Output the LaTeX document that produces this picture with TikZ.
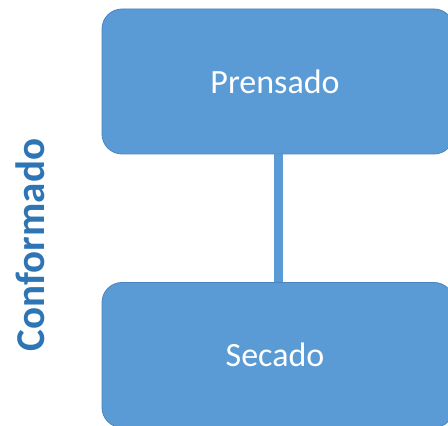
\documentclass[tikz,border=0pt]{standalone}
\usepackage{fontspec}
\setmainfont{Carlito}
\definecolor{boxfill}{HTML}{5B9BD5}
\definecolor{boxline}{HTML}{4A85BF}
\definecolor{labelblue}{HTML}{2E75B6}
\begin{document}
\begin{tikzpicture}[x=1pt,y=1pt,
  stagebox/.style={draw=boxline, line width=0.8pt, fill=boxfill, rounded corners=20pt,
    minimum width=352pt, minimum height=145pt, inner sep=0pt,
    text=white, font=\fontsize{34}{40}\selectfont},
  linkbar/.style={draw=boxfill, line width=9pt}]
\fill[white] (0,0) rectangle (448,426);
\useasboundingbox (0,0) rectangle (448,426);
\begin{scope}
\clip (0,0) rectangle (448,426);
\node[stagebox] (prensado) at (278,344.5) {\hspace*{-6pt}Prensado};
\node[stagebox] (secado) at (278,71) {\hspace*{-6pt}Secado};
\end{scope}
\coordinate (ca) at (278.5,0);
\draw[linkbar] (prensado.south -| ca) -- (secado.north -| ca);
\node[rotate=90, text=labelblue, font=\bfseries\fontsize{41}{46}\selectfont] (conf) at (30,181) {Conformado};
\end{tikzpicture}
\end{document}
